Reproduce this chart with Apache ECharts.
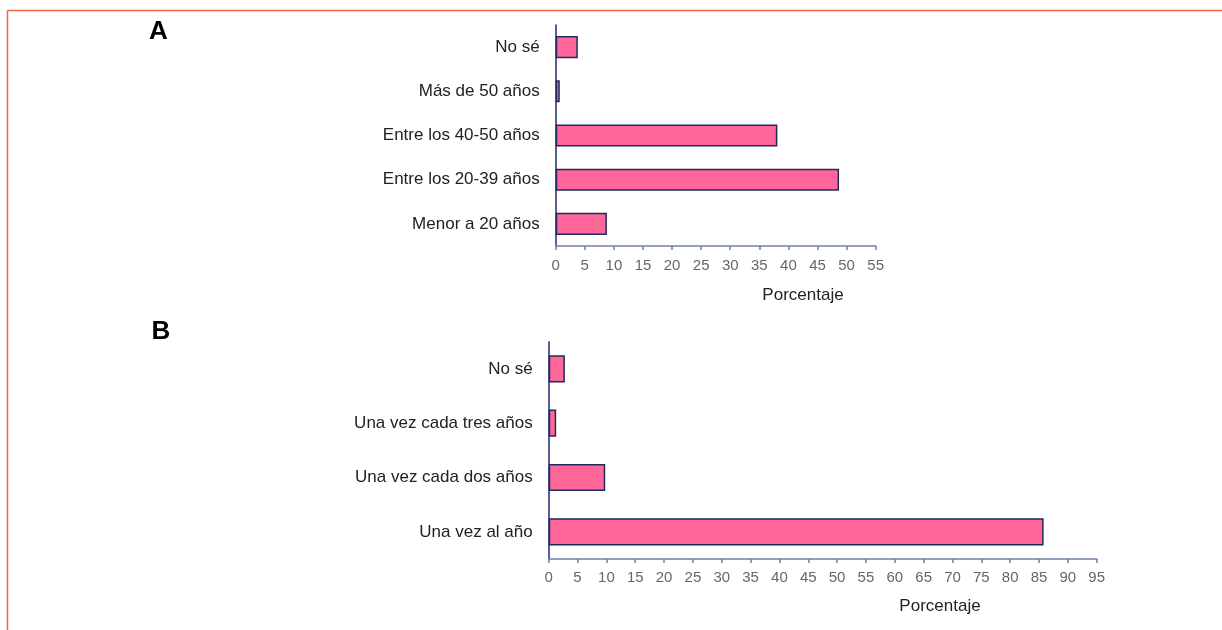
<!DOCTYPE html>
<html>
<head>
<meta charset="utf-8">
<script src="https://cdn.jsdelivr.net/npm/echarts@6/dist/echarts.min.js"></script>
<style>
html,body{margin:0;padding:0;background:#fff;}
#c{width:1222px;height:630px;}
</style>
</head>
<body>
<div id="c"></div>
<script>
// Panel A
const catsA = ['No sé', 'Más de 50 años', 'Entre los 40-50 años', 'Entre los 20-39 años', 'Menor a 20 años'];
const valsA = [3.8, 0.7, 38.1, 48.7, 8.8];
// Panel B
const catsB = ['No sé', 'Una vez cada tres años', 'Una vez cada dos años', 'Una vez al año'];
const valsB = [2.8, 1.3, 9.8, 85.8];
const axisTitle = 'Porcentaje';
const panelLabels = ['A', 'B'];

const FONT = 'Liberation Sans, Arial, sans-serif';
const barStyle = { color: '#FF6699', borderColor: '#1F2A5E', borderWidth: 1.5 };

function xAxisCfg(idx, max, margin) {
  return {
    gridIndex: idx, type: 'value', min: 0, max: max, interval: 5,
    splitLine: { show: false },
    axisLine: { show: true, lineStyle: { color: '#6F80B0', width: 1.5 } },
    axisTick: { show: true, length: 4, lineStyle: { color: '#6F80B0', width: 1.5 } },
    axisLabel: { color: '#666', fontSize: 15, fontFamily: FONT, margin: margin }
  };
}
function yAxisCfg(idx, cats) {
  return {
    gridIndex: idx, type: 'category', data: cats, inverse: true,
    axisLine: { show: true, lineStyle: { color: '#1F2A6E', width: 1.5 } },
    axisTick: { show: false },
    axisLabel: { color: '#222', fontSize: 17, fontFamily: FONT, margin: 16 }
  };
}

const chart = echarts.init(document.getElementById('c'), null, { renderer: 'canvas' });
chart.setOption({
  animation: false,
  backgroundColor: '#fff',
  grid: [
    { left: 555.7, right: 346.3, top: 25, height: 221 },
    { left: 548.7, right: 125.3, top: 341.7, height: 217.3 }
  ],
  xAxis: [xAxisCfg(0, 55, 12), xAxisCfg(1, 95, 11)],
  yAxis: [yAxisCfg(0, catsA), yAxisCfg(1, catsB)],
  series: [
    { type: 'bar', xAxisIndex: 0, yAxisIndex: 0, data: valsA, barWidth: '50%', itemStyle: barStyle },
    { type: 'bar', xAxisIndex: 1, yAxisIndex: 1, data: valsB, barWidth: '50%', itemStyle: barStyle }
  ],
  graphic: [
    { type: 'line', shape: { x1: 7.5, y1: 10.5, x2: 1222, y2: 10.5 }, style: { stroke: '#EE6A3A', lineWidth: 1.5 } },
    { type: 'line', shape: { x1: 7.5, y1: 10.5, x2: 7.5, y2: 630 }, style: { stroke: '#EE6A3A', lineWidth: 1.5 } },
    { type: 'text', x: 158.5, y: 31.5, style: { text: panelLabels[0], font: 'bold 26px ' + FONT, fill: '#000', align: 'center', verticalAlign: 'middle' } },
    { type: 'text', x: 160.8, y: 332, style: { text: panelLabels[1], font: 'bold 26px ' + FONT, fill: '#000', align: 'center', verticalAlign: 'middle' } },
    { type: 'text', x: 803, y: 295, style: { text: axisTitle, font: '17px ' + FONT, fill: '#222', align: 'center', verticalAlign: 'middle' } },
    { type: 'text', x: 940, y: 606, style: { text: axisTitle, font: '17px ' + FONT, fill: '#222', align: 'center', verticalAlign: 'middle' } }
  ]
});
</script>
</body>
</html>
